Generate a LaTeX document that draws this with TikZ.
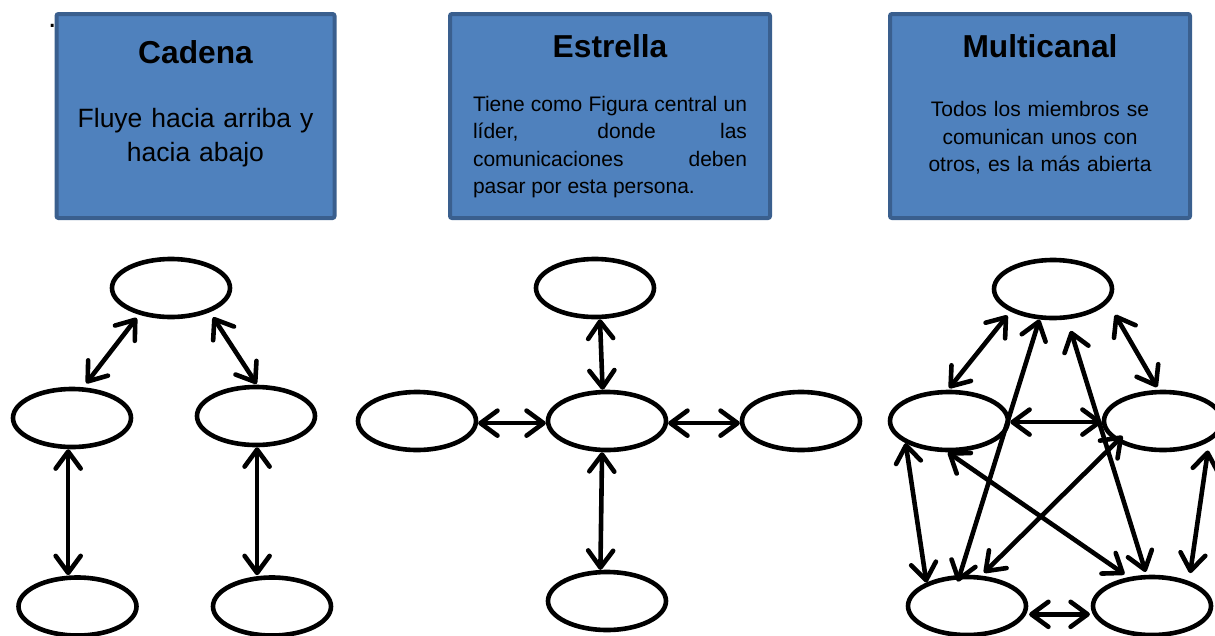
\documentclass[tikz,border=0pt]{standalone}
\usepackage{fontspec}
\setmainfont{Liberation Sans}
\usetikzlibrary{shapes.geometric,arrows.meta}
\definecolor{boxfill}{HTML}{4F81BD}
\definecolor{boxline}{HTML}{3A5F8E}

\begin{document}
\begin{tikzpicture}[x=1pt,y=-1pt,
  >={Straight Barb[length=17pt,width=25pt,round]},
  infobox/.style={draw=boxline, fill=boxfill, line width=4pt, rounded corners=2pt, inner sep=0pt},
  member/.style={ellipse, draw=black, fill=white, line width=4.6pt,
                 minimum width=118pt, minimum height=58pt, inner sep=0pt},
  link/.style={line width=4.6pt, <->},
  heading/.style={anchor=base, inner sep=0pt, font=\fontsize{31.7}{38}\selectfont\bfseries},
  body/.style={anchor=base, inner sep=0pt},
]
\useasboundingbox (0,0) rectangle (1215,635);

% stray mark at the top left
\node[anchor=base west, inner sep=0pt, font=\fontsize{30}{36}\selectfont] (dot) at (48,27.5) {.};

% ---- description boxes ----
\node[infobox, minimum width=278pt, minimum height=204pt] (cadbox) at (195.5,116) {};
\node[infobox, minimum width=320pt, minimum height=204pt] (estbox) at (610,116) {};
\node[infobox, minimum width=300pt, minimum height=204pt] (mulbox) at (1040,116) {};

\node[heading] (cadT) at (195.5,63.5) {Cadena};
\node[heading] (estT) at (610,57.5) {Estrella};
\node[heading] (mulT) at (1040,57.5) {Multicanal};

\node[body, text width=270pt, align=center, font=\fontsize{26.5}{34}\selectfont]
  (cadB) at (195.5,127) {Fluye hacia arriba y\\hacia abajo};
\node[body, text width=274pt, align=justify, font=\fontsize{21}{27.6}\selectfont]
  (estB) at (610,111) {Tiene como Figura central un\linebreak líder, donde las\linebreak comunicaciones deben\linebreak pasar por esta persona.};
\node[body, text width=280pt, align=center, font=\fontsize{21}{27.5}\selectfont]
  (mulB) at (1040,116.5) {Todos los miembros se\\comunican unos con\\otros, es la más abierta};

% ---- Cadena ----
\node[member] (ct)  at (171,288) {};
\node[member] (cml) at (72,418) {};
\node[member] (cmr) at (256,416) {};
\node[member] (cbl) at (77.5,606.5) {};
\node[member] (cbr) at (272,606.5) {};

\draw[link, shorten <=4pt, shorten >=5pt] (ct.220) -- (cml.70);
\draw[link, shorten <=6pt, shorten >=1pt] (ct.328) -- (cmr.88);
\draw[link] (cml.263) -- (cml.263 |- cbl.north);
\draw[link] (cmr.272) -- (cmr.272 |- cbr.north);

% ---- Estrella ----
\node[member] (st) at (595,288) {};
\node[member] (sc) at (607,421) {};
\node[member] (sl) at (417,421) {};
\node[member] (sr) at (801,421) {};
\node[member] (sb) at (607,601) {};

\draw[link] (st.279) -- (sc.98);
\draw[link] (sc.261) -- (sb.102);
\draw[link] (sl.358) -- (sc.182);
\draw[link] (sc.358) -- (sr.182);

% ---- Multicanal ----
\node[member] (mt)  at (1053,289) {};
\node[member] (ml)  at (949,421) {};
\node[member] (mr)  at (1163,421) {};
\node[member] (mbl) at (967,606) {};
\node[member] (mbr) at (1152,606) {};

\draw[link, shorten <=5pt, shorten >=2pt] (mt.208) -- (ml.92);
\draw[link, shorten <=14pt, shorten >=3pt] (mt.346) -- (mr.98);
\draw[link, shorten >=-7pt] (mt.246) -- (mbl.103);
\draw[link, shorten <=12pt, shorten >=3pt] (mt.295) -- (mbr.100);
\draw[link] (ml.359) -- (mr.181);
\draw[link, shorten >=5pt] (ml.268) -- (mbr.129);
\draw[link, shorten <=-8pt, shorten >=4pt] (mr.204) -- (mbl.65);
\draw[link] (ml.207) -- (mbl.150);
\draw[link, shorten <=9pt, shorten >=8pt] (mr.336) -- (mbr.34);
\draw[link, shorten <=3pt, shorten >=3pt] (mbl.352) -- (mbr.188);
\end{tikzpicture}
\end{document}
